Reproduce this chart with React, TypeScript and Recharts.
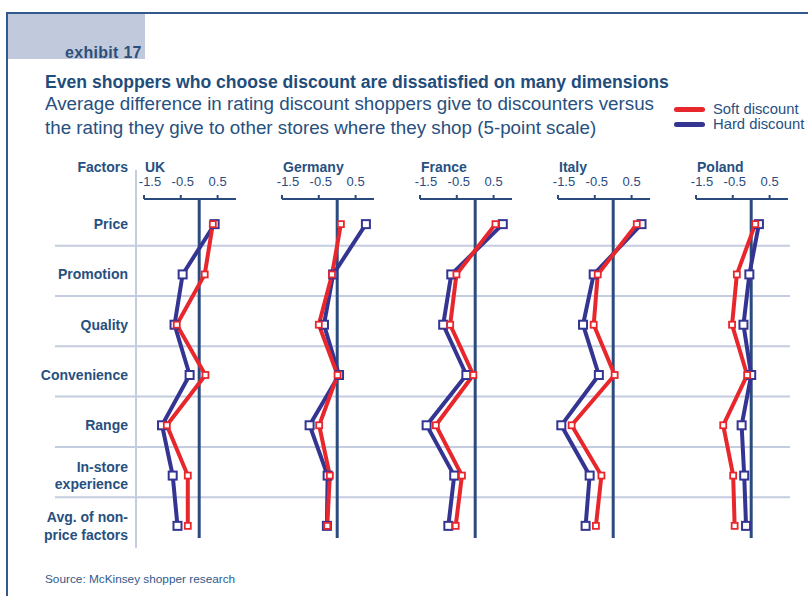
import React from 'react';
import { LineChart, Line, XAxis, YAxis, ReferenceLine } from 'recharts';

// rows, top to bottom
const factors = [
  'Price',
  'Promotion',
  'Quality',
  'Convenience',
  'Range',
  'In-store\nexperience',
  'Avg. of non-\nprice factors',
];
const countries = ['UK', 'Germany', 'France', 'Italy', 'Poland'];
const xTicks = [-1.5, -0.5, 0.5];

// soft = red, hard = blue
const ukSoft = [0.37, 0.15, -0.61, 0.17, -0.88, -0.31, -0.31];
const ukHard = [0.42, -0.45, -0.67, -0.26, -1.01, -0.72, -0.59];
const germanySoft = [0.1, -0.14, -0.5, 0.01, -0.49, -0.2, -0.27];
const germanyHard = [0.78, -0.11, -0.36, 0.05, -0.75, -0.26, -0.28];
const franceSoft = [0.55, -0.51, -0.68, -0.05, -1.07, -0.36, -0.53];
const franceHard = [0.75, -0.65, -0.87, -0.24, -1.32, -0.57, -0.73];
const italySoft = [0.64, -0.42, -0.53, 0.04, -1.13, -0.32, -0.47];
const italyHard = [0.77, -0.53, -0.82, -0.39, -1.41, -0.64, -0.75];
const polandSoft = [0.11, -0.39, -0.52, -0.11, -0.76, -0.49, -0.45];
const polandHard = [0.21, -0.05, -0.21, 0.0, -0.26, -0.19, -0.14];

const softByCountry = [ukSoft, germanySoft, franceSoft, italySoft, polandSoft];
const hardByCountry = [ukHard, germanyHard, franceHard, italyHard, polandHard];

const RED = '#e8272d';
const BLUE = '#343493';
const NAVY = '#2b4b7f';
const TEXT = '#27507f';
const GRID = '#c4cce0';
const FONT = '"Liberation Sans", Arial, sans-serif';

const series = [
  { key: 'soft', name: 'Soft discount', color: RED },
  { key: 'hard', name: 'Hard discount', color: BLUE },
];

const panelLefts = [144, 282, 420, 558, 696];
const PLOT_W = 92;
const SIDE = 14;
const CHART_TOP = 169;
const AXIS_H = 30;
const CHART_H = 382;
const LABEL_RIGHT = 108; // inside the label/grid chart (page x 128)

const squareDot = (color: string, size: number, sw: number) => (props: any) => {
  const { cx, cy, index } = props;
  if (cx == null || cy == null) return <g key={index} />;
  return (
    <rect
      key={index}
      x={cx - size / 2}
      y={cy - size / 2}
      width={size}
      height={size}
      fill="#fff"
      stroke={color}
      strokeWidth={sw}
    />
  );
};

// tick labels sit a little right of their tick when negative, as in the print
const ScaleTick = (props: any) => {
  const { x, y, payload } = props;
  const v = payload.value as number;
  const dx = v <= -1.5 ? 6 : v < 0 ? 2 : 0;
  return (
    <text x={x + dx} y={y} textAnchor="middle" fill={NAVY} fontSize={13} fontFamily={FONT}>
      {v.toFixed(1)}
    </text>
  );
};

const FactorTick = (props: any) => {
  const { y, payload } = props;
  const lines = String(factors[payload.value] ?? '').split('\n');
  const lh = 17.5;
  return (
    <text x={LABEL_RIGHT} y={y} textAnchor="end" fill={TEXT} fontSize={14} fontWeight="bold" fontFamily={FONT}>
      {lines.map((l, i) => (
        <tspan key={i} x={LABEL_RIGHT} dy={i === 0 ? -((lines.length - 1) * lh) / 2 + 5 : lh}>
          {l}
        </tspan>
      ))}
    </text>
  );
};

function CountryPanel({ name, soft, hard, left }: { name: string; soft: number[]; hard: number[]; left: number }) {
  const rows = factors.map((f, i) => ({ idx: i, factor: f, soft: soft[i], hard: hard[i] }));
  return (
    <>
      <div
        style={{
          position: 'absolute',
          left: left + 1,
          top: 158,
          fontSize: 14,
          fontWeight: 'bold',
          color: TEXT,
          lineHeight: '18px',
        }}
      >
        {name}
      </div>
      <div style={{ position: 'absolute', left: left - SIDE, top: CHART_TOP }}>
        <LineChart
          width={PLOT_W + SIDE * 2}
          height={CHART_H}
          data={rows}
          layout="vertical"
          margin={{ top: 0, right: SIDE, bottom: 0, left: SIDE }}
        >
          <XAxis
            type="number"
            orientation="top"
            domain={[-1.5, 1]}
            ticks={xTicks}
            interval={0}
            height={AXIS_H}
            tickSize={4}
            tickMargin={9}
            axisLine={{ stroke: NAVY, strokeWidth: 2 }}
            tickLine={{ stroke: NAVY, strokeWidth: 2 }}
            tick={<ScaleTick />}
          />
          <YAxis type="number" dataKey="idx" domain={[-0.5, 6.5]} hide />
          <ReferenceLine
            segment={[
              { x: 0, y: -0.5 },
              { x: 0, y: 6.24 },
            ]}
            stroke={NAVY}
            strokeWidth={3}
          />
          <Line
            dataKey="hard"
            stroke={BLUE}
            strokeWidth={4}
            dot={squareDot(BLUE, 8, 2)}
            activeDot={false}
            isAnimationActive={false}
          />
          <Line
            dataKey="soft"
            stroke={RED}
            strokeWidth={4}
            dot={squareDot(RED, 6, 1.8)}
            activeDot={false}
            isAnimationActive={false}
          />
        </LineChart>
      </div>
    </>
  );
}

export default function App() {
  const rows = factors.map((f, i) => ({ idx: i, factor: f }));
  const gridAt = factors.slice(0, -1).map((_, i) => i + 0.43);

  return (
    <div
      style={{
        position: 'absolute',
        left: 0,
        top: 0,
        width: 808,
        height: 596,
        background: '#fff',
        fontFamily: FONT,
        overflow: 'hidden',
      }}
    >
      {/* frame + header tab */}
      <div style={{ position: 'absolute', left: 6, top: 12, width: 802, height: 2, background: '#2f5a8b' }} />
      <div style={{ position: 'absolute', left: 6, top: 12, width: 2, height: 584, background: '#2f5a8b' }} />
      <div style={{ position: 'absolute', left: 8, top: 14, width: 137, height: 45, background: '#c1cadc' }} />
      <div
        style={{
          position: 'absolute',
          left: 65,
          top: 43,
          fontSize: 16,
          fontWeight: 'bold',
          letterSpacing: 0.3,
          color: '#2e4f7a',
          lineHeight: '20px',
        }}
      >
        exhibit 17
      </div>

      <div
        style={{
          position: 'absolute',
          left: 45,
          top: 72,
          fontSize: 17.6,
          fontWeight: 'bold',
          color: '#1f4d7c',
          lineHeight: '21px',
          whiteSpace: 'nowrap',
        }}
      >
        Even shoppers who choose discount are dissatisfied on many dimensions
      </div>
      <div
        style={{
          position: 'absolute',
          left: 45,
          top: 92,
          fontSize: 18.8,
          color: TEXT,
          lineHeight: '24px',
          whiteSpace: 'nowrap',
        }}
      >
        Average difference in rating discount shoppers give to discounters versus
        <br />
        the rating they give to other stores where they shop (5-point scale)
      </div>

      {/* legend */}
      {series.map((s, i) => (
        <div
          key={s.key}
          style={{ position: 'absolute', left: 674, top: 102 + i * 15, height: 15, display: 'flex', alignItems: 'center' }}
        >
          <div style={{ width: 31, height: 5, borderRadius: 3, background: s.color }} />
          <span style={{ marginLeft: 8, fontSize: 14.8, lineHeight: '15px', color: TEXT, whiteSpace: 'nowrap' }}>
            {s.name}
          </span>
        </div>
      ))}

      <div
        style={{
          position: 'absolute',
          left: 0,
          width: 128,
          top: 158,
          textAlign: 'right',
          fontSize: 14,
          fontWeight: 'bold',
          color: TEXT,
          lineHeight: '18px',
        }}
      >
        Factors
      </div>

      {/* gridlines and factor labels */}
      <div style={{ position: 'absolute', left: 20, top: CHART_TOP }}>
        <LineChart width={770} height={CHART_H} data={rows} margin={{ top: AXIS_H, right: 0, bottom: 0, left: 35 }}>
          <XAxis type="number" domain={[0, 1]} hide />
          <YAxis
            type="number"
            dataKey="idx"
            domain={[-0.5, 6.5]}
            reversed
            mirror
            ticks={factors.map((_, i) => i)}
            interval={0}
            axisLine={false}
            tickLine={false}
            tick={<FactorTick />}
          />
          {gridAt.map((g) => (
            <ReferenceLine key={g} y={g} stroke={GRID} strokeWidth={2} />
          ))}
        </LineChart>
      </div>
      <div style={{ position: 'absolute', left: 135, top: 170, width: 2, height: 378, background: GRID }} />

      {countries.map((c, i) => (
        <CountryPanel key={c} name={c} soft={softByCountry[i]} hard={hardByCountry[i]} left={panelLefts[i]} />
      ))}

      <div style={{ position: 'absolute', left: 45, top: 572, fontSize: 11.8, color: '#2f5a8b', lineHeight: '14px' }}>
        Source: McKinsey shopper research
      </div>
    </div>
  );
}
